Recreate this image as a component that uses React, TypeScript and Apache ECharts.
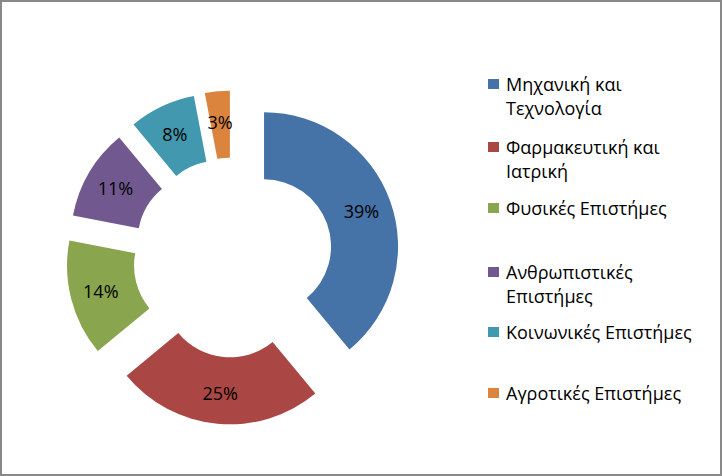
import React, { useEffect, useRef } from "react";
import * as echarts from "echarts";

const categories = [
  "Μηχανική και Τεχνολογία",
  "Φαρμακευτική και Ιατρική",
  "Φυσικές Επιστήμες",
  "Ανθρωπιστικές Επιστήμες",
  "Κοινωνικές Επιστήμες",
  "Αγροτικές Επιστήμες",
];
const legendLabels = [
  "Μηχανική και\nΤεχνολογία",
  "Φαρμακευτική και\nΙατρική",
  "Φυσικές Επιστήμες",
  "Ανθρωπιστικές\nΕπιστήμες",
  "Κοινωνικές Επιστήμες",
  "Αγροτικές Επιστήμες",
];
const values = [39, 25, 14, 11, 8, 3];
const colors = ["#4572A7", "#AA4643", "#89A54E", "#71588F", "#4198AF", "#DB843D"];
const legendIconCenters = [84, 147, 208, 272, 332, 393];

const FONT = "'Open Sans', 'Noto Sans', sans-serif";

export default function App() {
  const ref = useRef<HTMLDivElement>(null);
  useEffect(() => {
    if (!ref.current) return;
    const chart = echarts.init(ref.current, null, { renderer: "svg" });
    const legends = categories.map((name, i) => {
      const twoLine = legendLabels[i].includes("\n");
      const lineH = 24;
      // a leading blank line keeps the first text line level with the icon
      const text = twoLine ? " \n" + legendLabels[i] : legendLabels[i];
      return {
        data: [name],
        orient: "vertical",
        left: 488,
        top: legendIconCenters[i] - (twoLine ? lineH * 1.5 : lineH / 2),
        padding: 0,
        itemWidth: 11,
        itemHeight: 10,
        icon: "rect",
        selectedMode: false,
        formatter: () => text,
        textStyle: {
          fontFamily: FONT,
          fontSize: 18,
          color: "#000",
          lineHeight: lineH,
          padding: [0, 0, 0, 2],
        },
      };
    });
    chart.setOption({
      animation: false,
      color: colors,
      graphic: [
        {
          type: "rect",
          shape: { x: 1, y: 1, width: 720, height: 474 },
          style: { fill: "none", stroke: "#898989", lineWidth: 2 },
          silent: true,
        },
      ],
      legend: legends,
      series: [
        {
          type: "pie",
          center: [233, 257.5],
          radius: [67, 134],
          startAngle: 90,
          clockwise: true,
          selectedMode: "multiple",
          selectedOffset: 33,
          avoidLabelOverlap: false,
          label: {
            show: true,
            position: "inside",
            formatter: "{c}%",
            fontFamily: FONT,
            fontSize: 18,
            color: "#000",
          },
          labelLine: { show: false },
          emphasis: { disabled: true },
          data: categories.map((name, i) => ({
            name,
            value: values[i],
            selected: true,
          })),
        },
      ],
    });
    return () => chart.dispose();
  }, []);
  return (
    <div
      ref={ref}
      style={{ position: "fixed", left: 0, top: 0, width: 722, height: 476, background: "#fff" }}
    />
  );
}
